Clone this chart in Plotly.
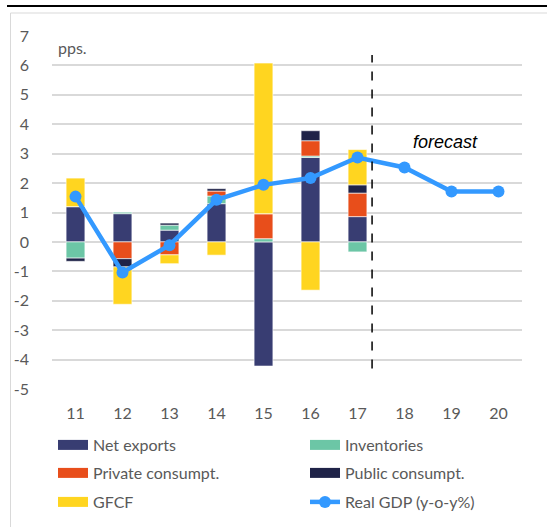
import plotly.graph_objects as go

years = ["11", "12", "13", "14", "15", "16", "17", "18", "19", "20"]
bar_years = ["11", "12", "13", "14", "15", "16", "17"]

net_exports = [1.20, 0.96, 0.40, 1.30, -4.22, 2.87, 0.86]
inventories = [-0.55, 0.05, 0.17, 0.26, 0.11, 0.05, -0.34]
private_cons = [0.00, -0.57, -0.44, 0.17, 0.85, 0.52, 0.80]
public_cons = [-0.11, -0.28, 0.07, 0.08, 0.00, 0.34, 0.28]
gfcf = [0.97, -1.27, -0.30, -0.45, 5.12, -1.64, 1.20]
real_gdp = [1.54, -1.04, -0.11, 1.43, 1.94, 2.17, 2.87, 2.53, 1.71, 1.71]

y_ticks = [7, 6, 5, 4, 3, 2, 1, 0, -1, -2, -3, -4, -5]
y_tick_labels = ["7", "6", "5", "4", "3", "2", "1", "0", "-1", "-2", "-3", "-4", "-5"]

series = [
    ("Net exports", net_exports, "#383D72"),
    ("Inventories", inventories, "#6CC6A6"),
    ("Private consumpt.", private_cons, "#E84E1B"),
    ("Public consumpt.", public_cons, "#1F2348"),
    ("GFCF", gfcf, "#FFD520"),
]
gdp_name = "Real GDP (y-o-y%)"
gdp_color = "#3399FF"
font_family = "Lato, 'Liberation Sans', sans-serif"
text_color = "#595959"

W, H = 547, 527
ML, MR, MT, MB = 52, 25, 36, 138

legend_slots = [(53, 445), (305, 445), (53, 473), (305, 473), (53, 502), (305, 502)]
legend_ids = ["legend", "legend2", "legend3", "legend4", "legend5", "legend6"]

fig = go.Figure()
for name, vals, col in series:
    fig.add_trace(go.Bar(x=bar_years, y=vals, name=name, marker_color=col,
                         marker_line=dict(color="white", width=0.6),
                         width=0.4, showlegend=False))

for i, (name, vals, col) in enumerate(series):
    fig.add_trace(go.Scatter(x=[None], y=[None], mode="lines", name=name,
                             line=dict(color=col, width=11), legend=legend_ids[i],
                             hoverinfo="skip"))

fig.add_trace(go.Scatter(x=years, y=real_gdp, mode="lines+markers", name=gdp_name,
                         line=dict(color=gdp_color, width=4.5),
                         marker=dict(color=gdp_color, size=12), legend=legend_ids[5]))

def px_x(p):
    return (p - ML) / (W - ML - MR)

def px_y(p):
    return (H - MB - p) / (H - MT - MB)

forecast_split = 6.31
fig.add_shape(type="line", xref="x", yref="y", x0=forecast_split, x1=forecast_split,
              y0=-4.3, y1=6.35, line=dict(color="black", width=1.5, dash="dash"))
fig.add_shape(type="rect", xref="paper", yref="paper", x0=px_x(10.5), x1=px_x(560),
              y0=px_y(13), y1=px_y(540), line=dict(color="#D9D9D9", width=1),
              fillcolor="rgba(0,0,0,0)", layer="above")
fig.add_shape(type="line", xref="paper", yref="paper", x0=px_x(7), x1=px_x(547),
              y0=px_y(6), y1=px_y(6), line=dict(color="black", width=2),
              layer="above")

fig.add_annotation(text="<i>forecast</i>", xref="x", yref="y", x=7.88, y=3.39, showarrow=False,
                   font=dict(family="'Liberation Sans', Arial, sans-serif", size=18, color="black"),
                   xanchor="center", yanchor="middle")
fig.add_annotation(text="pps.", xref="paper", yref="paper", x=px_x(56), y=px_y(47),
                   showarrow=False, xanchor="left", yanchor="middle",
                   font=dict(family=font_family, size=16, color=text_color))

legend_cfg = {}
for lid, (lx, ly) in zip(legend_ids, legend_slots):
    legend_cfg[lid] = dict(xref="container", yref="container", x=lx / W, y=1 - ly / H,
                           xanchor="left", yanchor="middle", orientation="v",
                           font=dict(family=font_family, size=16, color=text_color),
                           bgcolor="rgba(0,0,0,0)", borderwidth=0)

fig.update_layout(
    width=W, height=H,
    margin=dict(l=ML, r=MR, t=MT, b=MB, autoexpand=False),
    paper_bgcolor="white", plot_bgcolor="white",
    barmode="relative",
    font=dict(family=font_family, size=16, color=text_color),
    xaxis=dict(type="category", categoryorder="array", categoryarray=years,
               showgrid=False, zeroline=False, showline=False, ticks="",
               ticklabelstandoff=13, range=[-0.5, 9.5]),
    yaxis=dict(range=[-5, 7], tickmode="array", tickvals=y_ticks, ticktext=y_tick_labels,
               showgrid=True, gridcolor="#D9D9D9", gridwidth=1.5, zeroline=False,
               showline=False, ticks="", ticklabelstandoff=22, layer="below traces"),
    showlegend=True,
    **legend_cfg,
)

fig.write_html("out.html", config={"displayModeBar": False},
               post_script="document.body.style.margin='0';document.body.style.overflow='hidden';window.scrollTo(0,0);")
